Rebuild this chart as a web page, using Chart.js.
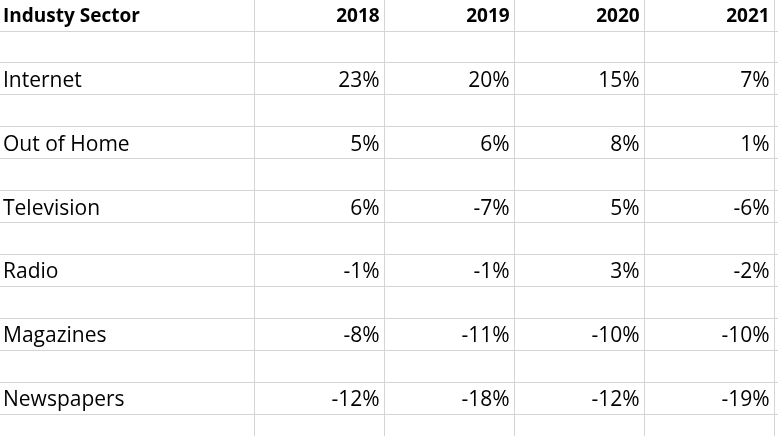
<!DOCTYPE html>
<html>
<head>
<meta charset="utf-8">
<script src="https://cdn.jsdelivr.net/npm/chart.js@4/dist/chart.umd.min.js"></script>
<style>
  html, body { margin: 0; padding: 0; background: #fff; }
  #wrap { width: 778px; height: 436px; }
</style>
</head>
<body>
<div id="wrap"><canvas id="table-chart"></canvas></div>
<script>
  const headerLabel = 'Industy Sector';
  const years = ['2018', '2019', '2020', '2021'];
  const sectors = ['Internet', 'Out of Home', 'Television', 'Radio', 'Magazines', 'Newspapers'];
  const internet = [23, 20, 15, 7];
  const outOfHome = [5, 6, 8, 1];
  const television = [6, -7, 5, -6];
  const radio = [-1, -1, 3, -2];
  const magazines = [-8, -11, -10, -10];
  const newspapers = [-12, -18, -12, -19];
  const sectorValues = [internet, outOfHome, television, radio, magazines, newspapers];

  // sheet layout: column borders (px) and row slots (header, then a blank row between sectors)
  const colLines = [254.5, 384.7, 514.7, 644.7, 774.7];
  const rowLines = [1, 2, 3, 4, 5, 6, 7, 8, 9, 10, 11, 12, 13];
  const fontFamily = "'Open Sans', Lato, sans-serif";

  const sectorRow = i => 2 + i * 2 + 0.5;

  const datasets = [];
  // header row
  datasets.push({
    texts: [headerLabel].concat(years),
    bold: true,
    data: [{ x: 0, y: 0.5 }].concat(years.map((y, j) => ({ x: colLines[j + 1], y: 0.5 })))
  });
  // sector names
  datasets.push({
    texts: sectors,
    data: sectors.map((s, i) => ({ x: 0, y: sectorRow(i) }))
  });
  // one dataset per year column
  years.forEach((year, j) => {
    datasets.push({
      texts: sectorValues.map(v => v[j] + '%'),
      data: sectorValues.map((v, i) => ({ x: colLines[j + 1], y: sectorRow(i) }))
    });
  });
  datasets.forEach(ds => { ds.pointRadius = 0; ds.pointHoverRadius = 0; ds.showLine = false; });

  const cellText = {
    id: 'cellText',
    afterDatasetsDraw(chart) {
      const ctx = chart.ctx;
      ctx.save();
      ctx.fillStyle = '#000';
      ctx.textBaseline = 'middle';
      chart.data.datasets.forEach((ds, di) => {
        const meta = chart.getDatasetMeta(di);
        ctx.font = ds.bold ? 'bold 19px ' + fontFamily : '21px ' + fontFamily;
        meta.data.forEach((pt, i) => {
          const leftCol = ds.data[i].x === 0;
          ctx.textAlign = leftCol ? 'left' : 'right';
          ctx.fillText(ds.texts[i], leftCol ? pt.x + 3 : pt.x - 5, pt.y + 2);
        });
      });
      ctx.restore();
    }
  };

  const gridOpts = { color: '#d4d4d4', lineWidth: 1, drawTicks: false };

  new Chart(document.getElementById('table-chart').getContext('2d'), {
    type: 'scatter',
    data: { datasets: datasets },
    options: {
      responsive: true,
      maintainAspectRatio: false,
      animation: false,
      layout: { padding: 0 },
      plugins: { legend: { display: false }, tooltip: { enabled: false } },
      scales: {
        x: {
          type: 'linear', min: 0, max: 778,
          ticks: { display: false },
          border: { display: false },
          grid: gridOpts,
          afterBuildTicks: scale => { scale.ticks = colLines.map(v => ({ value: v })); }
        },
        y: {
          type: 'linear', reverse: true, min: 0.028, max: 13.687,
          ticks: { display: false },
          border: { display: false },
          grid: gridOpts,
          afterBuildTicks: scale => { scale.ticks = rowLines.map(v => ({ value: v })); }
        }
      }
    },
    plugins: [cellText]
  });
</script>
</body>
</html>
